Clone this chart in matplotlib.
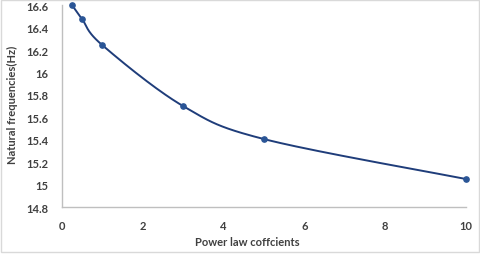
import numpy as np
import matplotlib.pyplot as plt
from matplotlib.patches import Rectangle

coef = [0.25, 0.5, 1, 3, 5, 10]
freq = [16.6, 16.475, 16.243, 15.70, 15.406, 15.05]

yticks = [14.8, 15, 15.2, 15.4, 15.6, 15.8, 16, 16.2, 16.4, 16.6]
ylabels = ['14.8', '15', '15.2', '15.4', '15.6', '15.8', '16', '16.2', '16.4', '16.6']
xticks = [0, 2, 4, 6, 8, 10]

plt.rcParams['font.family'] = ['Lato', 'DejaVu Sans']


def smooth(xs, ys, sx=40.4, sy=112.2, n=40):
    # excel-like smoothed line, control points worked out in screen units
    p = np.column_stack([np.array(xs) * sx, np.array(ys) * sy]).astype(float)
    out = []
    for i in range(len(p) - 1):
        p0 = p[i - 1] if i > 0 else p[i]
        p1, p2 = p[i], p[i + 1]
        p3 = p[i + 2] if i + 2 < len(p) else p[i + 1]
        c1 = p1 + (p2 - p0) / 6
        c2 = p2 - (p3 - p1) / 6
        t = np.linspace(0, 1, n)[:, None]
        seg = (1 - t) ** 3 * p1 + 3 * (1 - t) ** 2 * t * c1 + 3 * (1 - t) * t ** 2 * c2 + t ** 3 * p2
        out.append(seg)
    c = np.vstack(out)
    return c[:, 0] / sx, c[:, 1] / sy


fig = plt.figure(figsize=(4.8, 2.55), dpi=100)
ax = fig.add_axes([0.129, 0.184, 0.842, 0.792])

sx, sy = smooth(coef, freq)
ax.plot(sx, sy, color='#1f3d7a', lw=1.4, clip_on=False)
ax.plot(coef, freq, 'o', color='#2a5596', ms=3.8, clip_on=False)

ax.set_xlim(0, 10)
ax.set_ylim(14.8, 16.6)
ax.set_xticks(xticks)
ax.set_yticks(yticks)
ax.set_yticklabels(ylabels)
ax.tick_params(length=0, labelsize=8, colors='#404040')
ax.tick_params(axis='x', pad=9)
ax.tick_params(axis='y', pad=10)
for lab in ax.get_xticklabels() + ax.get_yticklabels():
    lab.set_fontweight('bold')

for s in ['top', 'right']:
    ax.spines[s].set_visible(False)
for s in ['left', 'bottom']:
    ax.spines[s].set_color('#bfbfbf')
    ax.spines[s].set_linewidth(1)

fig.text(247 / 480, 1 - 243 / 255, 'Power law coffcients', ha='center', va='center',
         fontsize=8, fontweight='bold', color='#404040')
fig.text(12 / 480, 1 - 105 / 255, 'Natural frequencies(Hz)', ha='center', va='center',
         rotation=90, fontsize=8, fontweight='bold', color='#404040')

fig.patches.append(Rectangle((0.003, 0.006), 0.994, 0.99, transform=fig.transFigure,
                             fill=False, edgecolor='#d9d9d9', lw=1))

fig.savefig('out.png', dpi=100)
plt.close()
